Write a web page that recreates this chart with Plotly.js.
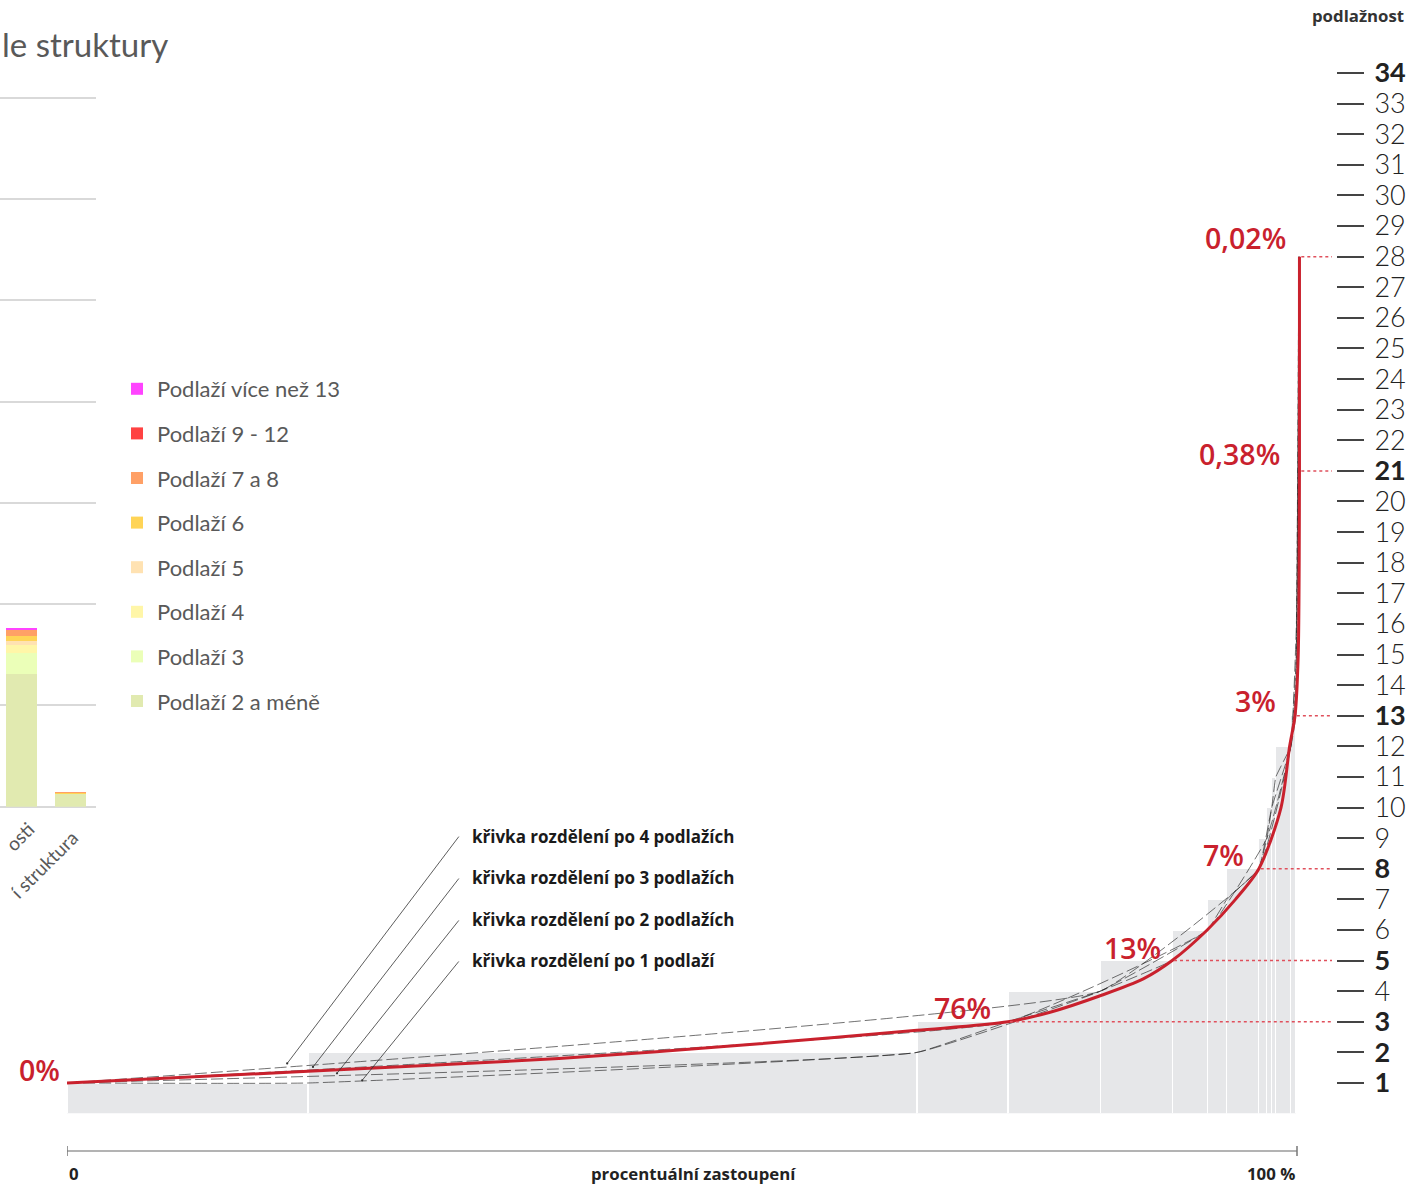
<!DOCTYPE html>
<html>
<head>
<meta charset="utf-8">
<script src="https://cdn.plot.ly/plotly-3.0.1.min.js"></script>
<style>
  html, body { margin: 0; padding: 0; background: #ffffff; }
  #chart { width: 1421px; height: 1186px; }
</style>
</head>
<body>
<div id="chart"></div>
<script>
// ---------------- DATA ----------------
// Left: stacked bars (visible tail of a cropped chart)
const barCategories = ['osti', 'í struktura'];
const seriesNames = ['Podlaží 2 a méně', 'Podlaží 3', 'Podlaží 4', 'Podlaží 5', 'Podlaží 6', 'Podlaží 7 a 8', 'Podlaží 9 - 12', 'Podlaží více než 13'];
const seriesColors = ['#e1eab0', '#ebffb8', '#fff6a8', '#ffe2b2', '#ffd456', '#ffa066', '#ff4242', '#ff44ff'];
const valsPodlazi2 = [13.15, 1.26];
const valsPodlazi3 = [2.07, 0.02];
const valsPodlazi4 = [0.79, 0.01];
const valsPodlazi5 = [0.33, 0.01];
const valsPodlazi6 = [0.52, 0.02];
const valsPodlazi7a8 = [0.59, 0.12];
const valsPodlazi9a12 = [0.03, 0.02];
const valsPodlazi13 = [0.14, 0.01];
const seriesValues = [valsPodlazi2, valsPodlazi3, valsPodlazi4, valsPodlazi5, valsPodlazi6, valsPodlazi7a8, valsPodlazi9a12, valsPodlazi13];

// Right: share of buildings (%) for each number of floors (grey steps)
const floorLevels = [1, 2, 3, 4, 5, 6, 7, 8, 9, 10, 11, 12, 13];
const floorShares = [19.6, 49.5, 7.4, 7.5, 5.85, 2.9, 1.55, 2.6, 0.65, 0.4, 0.33, 1.22, 0.4];

// distribution curves: cumulative share (%) vs floors
const redCurveX = [0, 19.6, 40, 56.3, 69.1, 76.5, 80, 84, 87.5, 89.85, 92.7, 95.0, 96.9, 98.7, 99.4, 99.84, 100.1, 100.2, 100.2];
const redCurveY = [1, 1.38, 1.8, 2.28, 2.72, 3, 3.32, 3.85, 4.4, 5, 6, 7, 8, 10, 12, 13, 15, 21, 28];
const po1X = [0, 19.6, 69.1, 76.5, 84.0, 89.85, 92.75, 94.3, 96.9, 97.55, 97.95, 98.28, 99.5, 99.9, 100.1, 100.2];
const po1Y = [1, 1, 2, 3, 4, 5, 6, 7, 8, 9, 10, 11, 12, 13, 21, 28];
const po2X = [0, 69.1, 84.0, 92.75, 96.9, 97.95, 99.5, 99.9, 100.05, 100.15];
const po2Y = [1, 2, 4, 6, 8, 10, 12, 14, 20, 28];
const po3X = [0, 76.5, 92.75, 97.55, 99.5, 99.95, 100.1, 100.15];
const po3Y = [1, 3, 6, 9, 12, 15, 21, 28];
const po4X = [0, 84.0, 96.9, 99.5, 99.95, 100.1, 100.15];
const po4Y = [1, 4, 8, 12, 16, 24, 28];

const curveLabels = ['křivka rozdělení po 4 podlažích', 'křivka rozdělení po 3 podlažích', 'křivka rozdělení po 2 podlažích', 'křivka rozdělení po 1 podlaží'];

// highlighted floors and their shares
const markFloors = [3, 5, 8, 13, 21, 28];
const markLabels = ['76%', '13%', '7%', '3%', '0,38%', '0,02%'];
const startLabel = '0%';

// y tick labels (floors)
const floorTicks = [];
for (let i = 1; i <= 34; i++) floorTicks.push(i);
const boldFloors = [1, 2, 3, 5, 8, 13, 21, 34];

const titleText = 'le struktury';

// ---------------- LAYOUT HELPERS ----------------
const W = 1421, H = 1186;
const px = p => p / W;
const py = p => 1 - p / H;
const XMAX = (1332 - 67) / 12.3;
const RED = '#c9212d';

function interp(xs, ys, x) {
  for (let i = 1; i < xs.length; i++) {
    if (x <= xs[i]) {
      const t = (x - xs[i - 1]) / (xs[i] - xs[i - 1]);
      return ys[i - 1] + t * (ys[i] - ys[i - 1]);
    }
  }
  return ys[ys.length - 1];
}

const traces = [];

// Stacked bars (left subplot)
seriesNames.forEach((name, i) => {
  traces.push({
    type: 'bar', x: barCategories, y: seriesValues[i], name: name,
    xaxis: 'x2', yaxis: 'y2', width: 0.64,
    marker: { color: seriesColors[i], line: { width: 0 } },
    legendgroup: 'g' + i, legendrank: 100 - i, hoverinfo: 'skip'
  });
});

// grey step bars
const cum = [];
let acc = 0;
floorShares.forEach(s => { cum.push(acc + s / 2); acc += s; });
traces.push({
  type: 'bar', x: cum, y: floorLevels, width: floorShares,
  xaxis: 'x', yaxis: 'y', showlegend: false, hoverinfo: 'skip',
  marker: { color: '#e6e7e9', line: { color: '#ffffff', width: 1.2 } }
});

// black thin curves
[[po4X, po4Y], [po3X, po3Y], [po2X, po2Y], [po1X, po1Y]].forEach(c => {
  traces.push({
    type: 'scatter', mode: 'lines', x: c[0], y: c[1], xaxis: 'x', yaxis: 'y',
    line: { color: 'rgba(30,30,30,0.7)', width: 0.9, dash: '12px,4px', shape: 'spline', smoothing: 0.3 },
    showlegend: false, hoverinfo: 'skip'
  });
});

// red curve
traces.push({
  type: 'scatter', mode: 'lines', x: redCurveX, y: redCurveY, xaxis: 'x', yaxis: 'y',
  line: { color: RED, width: 3, shape: 'spline', smoothing: 0.8 },
  showlegend: false, hoverinfo: 'skip'
});

// ---------------- SHAPES ----------------
const shapes = [];
markFloors.forEach(f => {
  const idx = redCurveY.indexOf(f);
  const x0 = redCurveX[idx];
  shapes.push({ type: 'line', xref: 'x', yref: 'y', x0: x0 + 0.15, x1: XMAX, y0: f, y1: f,
    line: { color: '#e0505c', width: 1.5, dash: 'dot' } });
});
// bottom axis line with end ticks
const axY = py(1151);
shapes.push({ type: 'line', xref: 'x', yref: 'paper', x0: 0, x1: 100, y0: axY, y1: axY, line: { color: '#9a9a9a', width: 1.5 } });
[0, 100].forEach(v => shapes.push({ type: 'line', xref: 'x', yref: 'paper', x0: v, x1: v, y0: py(1146), y1: py(1156), line: { color: '#777', width: 1.5 } }));

// ---------------- ANNOTATIONS ----------------
const annotations = [];
annotations.push({ xref: 'paper', yref: 'paper', x: px(0), y: py(44), xanchor: 'left', yanchor: 'middle',
  text: titleText, showarrow: false, font: { family: 'Lato, sans-serif', size: 33, color: '#595959' } });

// rotated category labels of the left bar chart
const catLabelShift = [[-2, 836], [-27, 864]];
barCategories.forEach((c, i) => {
  annotations.push({ xref: 'x2', yref: 'paper', x: c, y: py(catLabelShift[i][1]), xshift: catLabelShift[i][0],
    text: c, showarrow: false, textangle: -45, xanchor: 'center', yanchor: 'middle',
    font: { family: 'Lato, sans-serif', size: 19, color: '#595959' } });
});

// red share labels
const redFont = { family: 'Open Sans, sans-serif', size: 28.5, color: RED, weight: 600 };
const labelPos = [[72.8, 3.45], [86.6, 5.41], [94.0, 8.45], [96.6, 13.48], [95.3, 21.55], [95.8, 28.61]];
markLabels.forEach((t, i) => {
  annotations.push({ xref: 'x', yref: 'y', x: labelPos[i][0], y: labelPos[i][1], text: t, showarrow: false,
    xanchor: 'center', yanchor: 'middle', font: redFont });
});
annotations.push({ xref: 'paper', yref: 'paper', x: px(39), y: py(1070), text: startLabel, showarrow: false,
  xanchor: 'center', yanchor: 'middle', font: redFont });

// curve labels with leader lines
const curveSets = [[po4X, po4Y], [po3X, po3Y], [po2X, po2Y], [po1X, po1Y]];
const labelFloors = [9.07, 7.70, 6.33, 4.99];
const dotX = [17.9, 20.0, 21.95, 24.0];
curveLabels.forEach((t, i) => {
  annotations.push({ xref: 'x', yref: 'y', x: 32.76, y: labelFloors[i], text: t, showarrow: false,
    xanchor: 'left', yanchor: 'middle', font: { family: 'Open Sans, sans-serif', size: 17, color: '#1a1a1a', weight: 700 } });
  const c = curveSets[i];
  annotations.push({ xref: 'x', yref: 'y', x: dotX[i], y: interp(c[0], c[1], dotX[i]), text: '',
    showarrow: true, axref: 'x', ayref: 'y', ax: 31.95, ay: labelFloors[i] + 0.03,
    arrowhead: 6, arrowsize: 0.7, arrowwidth: 0.8, arrowcolor: '#333', standoff: 0, startstandoff: 0 });
});

// x axis labels
const bold17 = { family: 'Open Sans, sans-serif', size: 16.8, color: '#222', weight: 700 };
annotations.push({ xref: 'x', yref: 'paper', x: 0, y: py(1173), text: '0', showarrow: false, xanchor: 'left', yanchor: 'middle', font: bold17 });
annotations.push({ xref: 'x', yref: 'paper', x: 100, y: py(1173), text: '100 %', showarrow: false, xanchor: 'right', yanchor: 'middle', font: bold17 });
annotations.push({ xref: 'x', yref: 'paper', x: 50.9, y: py(1173), text: 'procentuální zastoupení', showarrow: false, xanchor: 'center', yanchor: 'middle', font: bold17 });
annotations.push({ xref: 'paper', yref: 'paper', x: px(1406), y: py(16), text: 'podlažnost', showarrow: false, xanchor: 'right', yanchor: 'middle', font: { family: 'Open Sans, sans-serif', size: 16.8, color: '#333', weight: 700 } });

const tickText = floorTicks.map(f => boldFloors.includes(f) ? '<b>' + f + '</b>' : String(f));

const Y2_UNIT = (806.8 - 97.6) / 70;
const layout = {
  width: W, height: H,
  margin: { l: 0, r: 0, t: 0, b: 0 },
  paper_bgcolor: '#ffffff', plot_bgcolor: 'rgba(0,0,0,0)',
  barmode: 'stack', bargap: 0,
  showlegend: true,
  legend: {
    x: px(117), y: py(368), xanchor: 'left', yanchor: 'top',
    traceorder: 'grouped', tracegroupgap: 13,
    font: { family: 'Lato, sans-serif', size: 22, color: '#595959' },
    bgcolor: 'rgba(0,0,0,0)', borderwidth: 0
  },
  xaxis: {
    domain: [px(67), px(1332)], range: [0, XMAX], anchor: 'y',
    showgrid: false, zeroline: false, showline: false, showticklabels: false, ticks: ''
  },
  yaxis: {
    domain: [py(1113.6), py(73)], range: [0, 34], anchor: 'free', position: px(1336), side: 'right',
    showgrid: false, zeroline: false, showline: false,
    tickmode: 'array', tickvals: floorTicks, ticktext: tickText,
    ticks: 'outside', ticklen: 27, tickwidth: 2, tickcolor: '#444',
    ticklabelstandoff: 5,
    tickfont: { family: 'Lato, sans-serif', size: 27, color: '#222', weight: 300 }
  },
  xaxis2: {
    domain: [0, px(95.7)], range: [-0.433, 1.512], anchor: 'y2', type: 'category',
    showgrid: false, zeroline: false, showline: false, ticks: '', showticklabels: false
  },
  yaxis2: {
    domain: [py(806.8), py(806.8 - 70.4 * Y2_UNIT)], range: [0, 70.4], anchor: 'x2',
    tickmode: 'array', tickvals: [10, 20, 30, 40, 50, 60, 70],
    showgrid: true, gridcolor: '#d9d9d9', gridwidth: 2,
    zeroline: true, zerolinecolor: '#d9d9d9', zerolinewidth: 2.5,
    showticklabels: false, ticks: ''
  },
  shapes: shapes,
  annotations: annotations
};

Plotly.newPlot('chart', traces, layout, { displayModeBar: false, staticPlot: true });
</script>
</body>
</html>
